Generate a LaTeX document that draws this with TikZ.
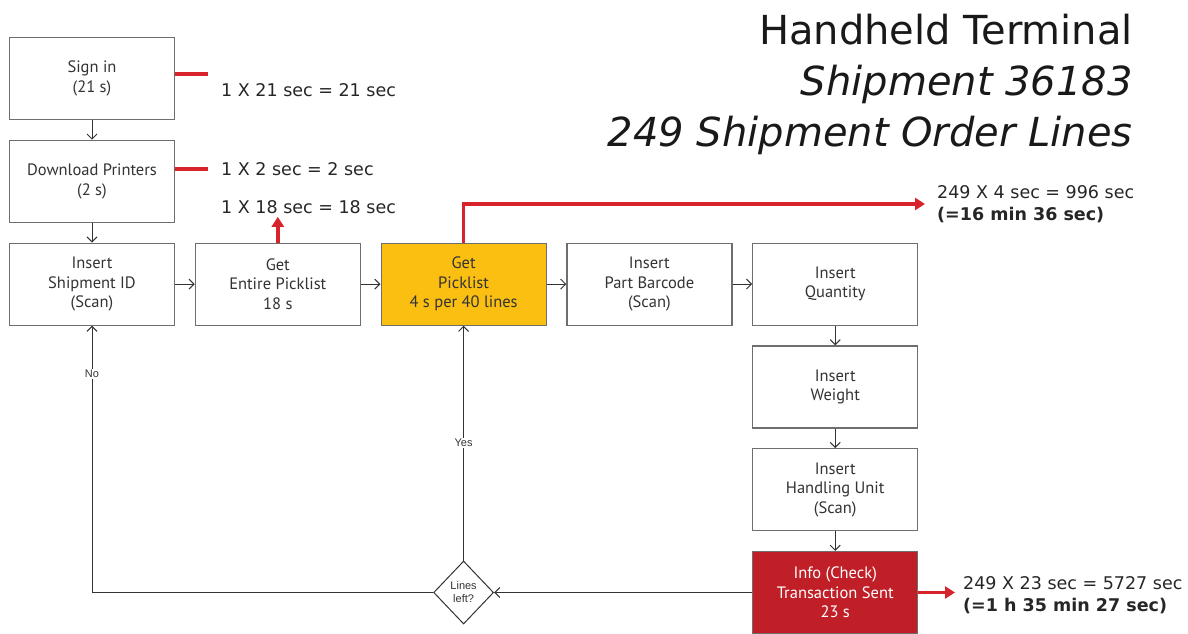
\documentclass[tikz,border=0pt]{standalone}
\usepackage{fontspec}
\setmainfont{PT Sans}
\newfontfamily\notefont{DejaVu Sans}
\newfontfamily\labelfont{Liberation Sans}
\usepackage{xcolor}
\usetikzlibrary{arrows.meta,positioning,shapes.geometric}

\definecolor{boxgray}{HTML}{6E6E6E}
\definecolor{linegray}{HTML}{333333}
\definecolor{pickyellow}{HTML}{FBBF12}
\definecolor{sentred}{HTML}{C01F27}
\definecolor{timered}{HTML}{D7232B}

\tikzset{
  stepbox/.style={draw=boxgray,line width=1.2pt,fill=white,
    minimum width=165pt,minimum height=82pt,inner sep=0pt,
    align=center,text=black!80,font=\fontsize{16.5}{19.5}\selectfont},
  flow/.style={draw=linegray,line width=1pt,-{Straight Barb[length=5pt,width=10pt]}},
  timeline/.style={draw=timered,line width=3.5pt},
  timearrow/.style={timeline,-{Triangle[length=10pt,width=12pt]}},
  timetext/.style={anchor=west,inner sep=0pt,align=left,text=black!85,
    font=\notefont\fontsize{17.5}{22}\selectfont},
  branch/.style={font=\labelfont\fontsize{11}{13}\selectfont,text=black!80,
    fill=white,inner sep=1pt}
}

\begin{document}
\begin{tikzpicture}[x=1pt,y=1pt,node distance=19.6pt]
    \useasboundingbox (0,0) rectangle (1188,-633);

    \node[anchor=north east,inner sep=0pt,align=right,text=black!90,
          font=\notefont\fontsize{40}{51}\selectfont] (title) at (1133,-14)
      {Handheld Terminal\\\textit{Shipment 36183}\\\textit{249 Shipment Order Lines}};

    \node[stepbox] (signin) at (92,-78.5) {Sign in\\(21 s)};
    \node[stepbox,below=of signin] (printers) {Download Printers\\(2 s)};
    \node[stepbox,below=of printers] (shipid) {Insert\\Shipment ID\\(Scan)};
    \node[stepbox,right=of shipid] (entire) {Get\\Entire Picklist\\18 s};
    \node[stepbox,right=of entire,fill=pickyellow] (picklist) {Get\\Picklist\\4 s per 40 lines};
    \node[stepbox,right=of picklist] (barcode) {Insert\\Part Barcode\\(Scan)};
    \node[stepbox,right=of barcode] (quantity) {Insert\\Quantity};
    \node[stepbox,below=of quantity] (weight) {Insert\\Weight};
    \node[stepbox,below=of weight] (handling) {Insert\\Handling Unit\\(Scan)};
    \node[stepbox,below=of handling,fill=sentred,text=white] (sent)
      {Info (Check)\\Transaction Sent\\23 s};
    \node[diamond,draw=linegray,line width=1pt,fill=white,minimum width=60pt,
          minimum height=63pt,inner sep=0pt,align=center,text=black!80,
          font=\labelfont\fontsize{11}{13}\selectfont] (linesleft)
      at (picklist |- sent) {Lines\\left?};

    % time per step
    \node[timetext] (signtime) at (221,-90) {1 X 21 sec = 21 sec};
    \node[timetext] (printtime) at (221,-169) {1 X 2 sec = 2 sec};
    \node[timetext] (entiretime) at (221,-207) {1 X 18 sec = 18 sec};
    \node[timetext] (picktime) at (937,-204)
      {249 X 4 sec = 996 sec\\\textbf{(=16 min 36 sec)}};
    \node[timetext] (senttime) at (963,-595)
      {249 X 23 sec = 5727 sec\\\textbf{(=1 h 35 min 27 sec)}};

    \coordinate (signend) at (208,-74);
    \coordinate (printend) at (208,-169);
    \draw[timeline] (signin.east |- signend) -- (signend);
    \draw[timeline] (printers.east |- printend) -- (printend);
    \draw[timearrow,shorten >=3pt] (entire.north) -- (entire.north |- entiretime.south);
    \draw[timearrow,shorten >=12pt] (picklist.north) |- (picktime.west);
    \draw[timearrow,shorten >=8pt] (sent.east) -- (sent.east -| senttime.west);

    % flow
    \draw[flow] (signin) -- (printers);
    \draw[flow] (printers) -- (shipid);
    \draw[flow] (shipid) -- (entire);
    \draw[flow] (entire) -- (picklist);
    \draw[flow] (picklist) -- (barcode);
    \draw[flow] (barcode) -- (quantity);
    \draw[flow] (quantity) -- (weight);
    \draw[flow] (weight) -- (handling);
    \draw[flow] (handling) -- (sent);
    \draw[flow] (sent) -- (linesleft);
    \draw[flow] (linesleft) -- node[branch]{Yes} (picklist);
    \draw[flow] (linesleft.west) -| node[branch,pos=0.91]{No} (shipid.south);
  \end{tikzpicture}
\end{document}
